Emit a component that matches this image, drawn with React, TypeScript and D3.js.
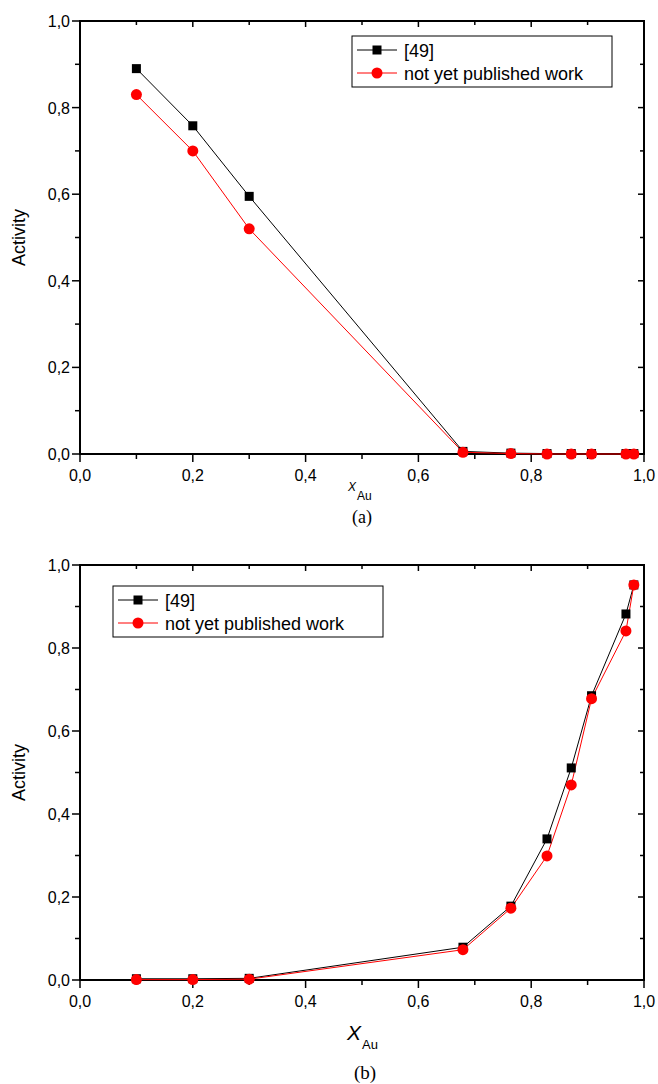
import React from "react";
import * as d3 from "d3";

const xAu = [0.1, 0.2, 0.3, 0.679, 0.764, 0.828, 0.871, 0.907, 0.968, 0.982];
const topRef49 = [0.89, 0.758, 0.595, 0.006, 0.002, 0.001, 0.001, 0.001, 0.001, 0.001];
const topNew = [0.83, 0.70, 0.52, 0.004, 0.001, 0.0, 0.0, 0.0, 0.0, 0.0];
const botRef49 = [0.003, 0.003, 0.004, 0.079, 0.178, 0.34, 0.511, 0.685, 0.882, 0.952];
const botNew = [0.001, 0.001, 0.002, 0.073, 0.173, 0.299, 0.47, 0.678, 0.841, 0.952];
const majorTicks = [0, 0.2, 0.4, 0.6, 0.8, 1.0];
const minorTicks = [0.1, 0.3, 0.5, 0.7, 0.9];
const seriesNames = ["[49]", "not yet published work"];

const FONT = "Liberation Sans, Arial, sans-serif";
const SERIF = "Liberation Serif, Times New Roman, serif";
const fmt = (v: number) => v.toFixed(1).replace(".", ",");

function Panel({ top, bottom, ref49, fresh, legend, lab, caption }: any) {
  const left = 80, right = 644;
  const x = d3.scaleLinear().domain([0, 1]).range([left, right]);
  const y = d3.scaleLinear().domain([0, 1]).range([bottom, top]);
  const line = d3.line<number>().x((_, i) => x(xAu[i])).y((d) => y(d));
  return (
    <g>
      <rect x={left} y={top} width={right - left} height={bottom - top} fill="none" stroke="#000" strokeWidth={2} />
      {majorTicks.map((t) => (
        <g key={"M" + t}>
          <line x1={x(t)} x2={x(t)} y1={bottom} y2={bottom + 8} stroke="#000" strokeWidth={1.5} />
          <line x1={x(t)} x2={x(t)} y1={top} y2={top + 6} stroke="#000" strokeWidth={1.5} />
          <line x1={left} x2={left - 8} y1={y(t)} y2={y(t)} stroke="#000" strokeWidth={1.5} />
          <line x1={right} x2={right - 6} y1={y(t)} y2={y(t)} stroke="#000" strokeWidth={1.5} />
          <text x={x(t)} y={bottom + 27} textAnchor="middle" fontSize={16} fontFamily={FONT}>{fmt(t)}</text>
          <text x={left - 10} y={y(t) + 6} textAnchor="end" fontSize={16} fontFamily={FONT}>{fmt(t)}</text>
        </g>
      ))}
      {minorTicks.map((t) => (
        <g key={"m" + t}>
          <line x1={x(t)} x2={x(t)} y1={bottom} y2={bottom + 5} stroke="#000" strokeWidth={1.5} />
          <line x1={x(t)} x2={x(t)} y1={top} y2={top + 4} stroke="#000" strokeWidth={1.5} />
          <line x1={left} x2={left - 5} y1={y(t)} y2={y(t)} stroke="#000" strokeWidth={1.5} />
          <line x1={right} x2={right - 4} y1={y(t)} y2={y(t)} stroke="#000" strokeWidth={1.5} />
        </g>
      ))}
      <text transform={`translate(25,${(top + bottom) / 2}) rotate(-90)`} textAnchor="middle" fontSize={18} fontFamily={FONT}>Activity</text>
      <text x={lab.x} y={lab.y} fontSize={lab.fs} fontFamily={FONT} fontStyle="italic">X</text>
      <text x={lab.ax} y={lab.ay} fontSize={lab.afs} fontFamily={FONT}>Au</text>
      <text x={caption.x} y={caption.y} textAnchor="middle" fontSize={caption.fs} fontFamily={SERIF}>{caption.t}</text>
      <path d={line(ref49) || ""} fill="none" stroke="#000" strokeWidth={1} />
      <path d={line(fresh) || ""} fill="none" stroke="#ff0000" strokeWidth={1} />
      {ref49.map((v: number, i: number) => (
        <rect key={"s" + i} x={x(xAu[i]) - 4.5} y={y(v) - 4.5} width={9} height={9} fill="#000" />
      ))}
      {fresh.map((v: number, i: number) => (
        <circle key={"c" + i} cx={x(xAu[i])} cy={y(v)} r={5.5} fill="#ff0000" />
      ))}
      <g transform={`translate(${legend[0]},${legend[1]})`}>
        <rect x={0} y={0} width={legend[2]} height={51} fill="#fff" stroke="#000" strokeWidth={1} />
        <line x1={5} x2={45} y1={14} y2={14} stroke="#000" strokeWidth={1} />
        <rect x={20.5} y={9.5} width={9} height={9} fill="#000" />
        <text x={52} y={21} fontSize={18} fontFamily={FONT}>{seriesNames[0]}</text>
        <line x1={5} x2={45} y1={37} y2={37} stroke="#ff0000" strokeWidth={1} />
        <circle cx={25} cy={37} r={5.5} fill="#ff0000" />
        <text x={52} y={44} fontSize={18} fontFamily={FONT}>{seriesNames[1]}</text>
      </g>
    </g>
  );
}

export default function App() {
  return (
    <svg width={658} height={1084} style={{ display: "block", position: "absolute", left: 0, top: 0 }}>
      <rect width={658} height={1084} fill="#fff" />
      <Panel top={21} bottom={454} ref49={topRef49} fresh={topNew} legend={[352, 36, 260]}
        lab={{ x: 348, y: 491, fs: 12, ax: 357, ay: 500, afs: 12 }}
        caption={{ x: 362, y: 523, fs: 18, t: "(a)" }} />
      <Panel top={565} bottom={980} ref49={botRef49} fresh={botNew} legend={[113, 586, 270]}
        lab={{ x: 347, y: 1040, fs: 21, ax: 362, ay: 1049, afs: 13 }}
        caption={{ x: 365, y: 1079, fs: 19, t: "(b)" }} />
    </svg>
  );
}
